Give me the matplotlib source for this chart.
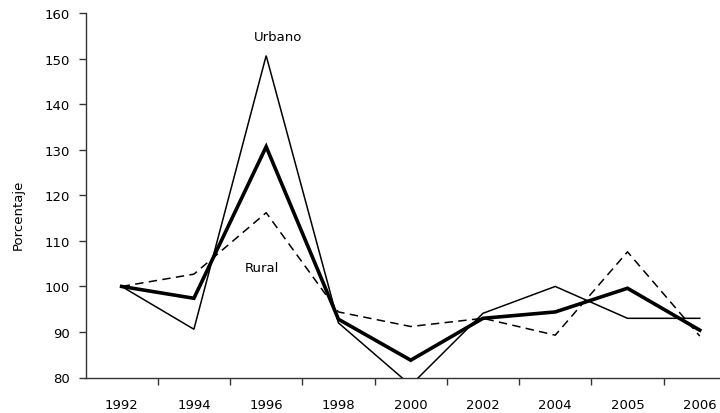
import matplotlib
matplotlib.use("Agg")
import matplotlib.pyplot as plt
import numpy as np

years = ["1992", "1994", "1996", "1998", "2000", "2002", "2004", "2005", "2006"]
urbano = [100.0, 90.6, 150.7, 92.0, 78.3, 94.1, 100.0, 93.0, 93.0]
rural = [100.0, 102.7, 116.2, 94.4, 91.2, 93.0, 89.3, 107.6, 89.1]
total = [100.0, 97.4, 130.7, 92.8, 83.8, 93.0, 94.4, 99.6, 90.4]
y_ticks = [80, 90, 100, 110, 120, 130, 140, 150, 160]

plt.rcParams["font.family"] = ["DejaVu Sans"]

W, H = 720, 414
fig = plt.figure(figsize=(W / 100, H / 100), dpi=100)
left_px, right_px = 85.5, 720
bottom_px, top_px = 378.5, 14.3
ax = fig.add_axes([left_px / W, 1 - bottom_px / H,
                   (right_px - left_px) / W, (bottom_px - top_px) / H])

x = np.arange(len(years))
ax.plot(x, urbano, color="black", lw=1.1, solid_joinstyle="miter")
ax.plot(x, rural, color="black", lw=1.1, dashes=(5.5, 3.5))
ax.plot(x, total, color="black", lw=2.6, solid_joinstyle="miter")

ax.set_ylim(80, 160)
ax.set_yticks(y_ticks)
ax.set_xlim(-0.5, 8.28)
ax.set_xticks(x)
ax.set_xticklabels(years)
ax.set_xticks(np.arange(len(years) - 1) + 0.5, minor=True)

for s in ("top", "right"):
    ax.spines[s].set_visible(False)
for s in ("left", "bottom"):
    ax.spines[s].set_color("#333333")
    ax.spines[s].set_linewidth(1.0)

ax.tick_params(axis="y", direction="out", length=5, width=1.0, color="#333333",
               labelsize=9.5, pad=6)
ax.tick_params(axis="x", which="major", length=0, labelsize=9.5, pad=15)
ax.tick_params(axis="x", which="minor", direction="out", length=5, width=1.0,
               color="#333333")

fig.text(18 / W, 1 - 215 / H, "Porcentaje", rotation=90, ha="center",
         va="center", fontsize=9.5)
ax.text(2.17, 154.8, "Urbano", ha="center", va="center", fontsize=9.5)
ax.text(1.94, 104.1, "Rural", ha="center", va="center", fontsize=9.5)

fig.savefig("out.png", dpi=100, facecolor="white")
